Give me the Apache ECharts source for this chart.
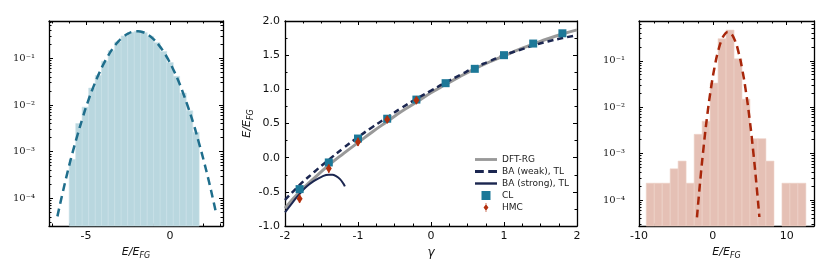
<!DOCTYPE html>
<html><head><meta charset="utf-8">
<script src="https://cdn.jsdelivr.net/npm/echarts@6/dist/echarts.min.js"></script>
<style>html,body{margin:0;padding:0;background:#fff}#c{width:830px;height:277px}</style>
</head><body><div id="c"></div>
<script>
// ---------- Left panel: histogram + fit ----------
const leftEdges = [-6.00,-5.61,-5.23,-4.84,-4.45,-4.07,-3.68,-3.29,-2.91,-2.52,-2.13,-1.75,-1.36,-0.97,-0.59,-0.20,0.19,0.57,0.96,1.35,1.73];
const leftHeights = [6.8e-4,4.0e-3,9.0e-3,0.023,0.043,0.086,0.147,0.224,0.302,0.36,0.38,0.355,0.295,0.216,0.14,0.081,0.041,0.018,7.5e-3,2.6e-3];
const leftCurveX = [-6.7,-6.4,-6.1,-5.8,-5.5,-5.2,-4.9,-4.6,-4.3,-4.0,-3.7,-3.4,-3.1,-2.8,-2.5,-2.2,-1.9,-1.6,-1.3,-1.0,-0.7,-0.4,-0.1,0.2,0.5,0.8,1.1,1.4,1.7,2.0,2.3,2.6,2.75];
const leftCurveY = [4.1e-5,1.26e-4,3.6e-4,9.5e-4,2.3e-3,5.3e-3,0.0114,0.0224,0.041,0.070,0.111,0.164,0.224,0.285,0.337,0.371,0.38,0.361,0.318,0.261,0.199,0.141,0.093,0.057,0.0325,0.0171,8.4e-3,3.9e-3,1.63e-3,6.5e-4,2.4e-4,8.1e-5,4.6e-5];
const leftXTicks = [-5, 0];
const leftXMinor = [-7,-6,-4,-3,-2,-1,1,2,3];

// ---------- Right panel: histogram + fit ----------
const rightEdges = [-9.02,-7.94,-6.86,-5.78,-4.70,-3.62,-2.53,-1.45,-0.37,0.71,1.79,2.87,3.95,5.03,6.11,7.19,8.28,9.36,10.44,11.52,12.60];
const rightHeights = [2.3e-4,2.3e-4,2.3e-4,4.7e-4,6.9e-4,2.3e-4,2.6e-3,5.0e-3,0.033,0.30,0.46,0.11,0.0149,2.1e-3,2.1e-3,6.9e-4,0,2.3e-4,2.3e-4,2.3e-4];
const rightCurveX = [-2.15,-1.75,-1.25,-0.75,-0.25,0.25,0.75,1.25,1.75,2.1,2.5,3.0,3.5,4.0,4.5,5.0,5.5,6.0,6.3];
const rightCurveY = [4.2e-5,2.2e-4,1.38e-3,6.8e-3,0.0256,0.075,0.169,0.295,0.397,0.42,0.383,0.272,0.148,0.063,0.0205,5.2e-3,1.0e-3,1.5e-4,4.3e-5];
const rightXTicks = [-10, 0, 10];
const rightXMinor = [-8,-6,-4,-2,2,4,6,8,12];

const logMajor = [1e-4, 1e-3, 1e-2, 1e-1];

// ---------- Middle panel ----------
const gammaGrid = [-2.0,-1.8,-1.6,-1.4,-1.2,-1.0,-0.8,-0.6,-0.4,-0.2,0.0,0.2,0.4,0.6,0.8,1.0,1.2,1.4,1.6,1.8,2.0];
const dftRG  = [-0.74,-0.50,-0.30,-0.11,0.06,0.22,0.38,0.53,0.68,0.81,0.95,1.07,1.19,1.30,1.40,1.49,1.58,1.66,1.74,1.81,1.87];
const baWeak = [-0.62,-0.40,-0.21,-0.03,0.14,0.30,0.45,0.59,0.73,0.86,0.98,1.10,1.21,1.32,1.41,1.50,1.57,1.64,1.70,1.75,1.79];
const baStrongX = [-2.0,-1.9,-1.8,-1.7,-1.6,-1.5,-1.4,-1.35,-1.3,-1.25,-1.2,-1.18];
const baStrongY = [-0.80,-0.66,-0.53,-0.42,-0.34,-0.28,-0.25,-0.25,-0.27,-0.31,-0.38,-0.42];
const clX = [-1.8,-1.4,-1.0,-0.6,-0.2,0.2,0.6,1.0,1.4,1.8];
const clY = [-0.46,-0.07,0.28,0.57,0.85,1.09,1.30,1.50,1.67,1.82];
const hmcX = [-1.8,-1.4,-1.0,-0.6,-0.2];
const hmcY = [-0.60,-0.16,0.23,0.56,0.84];
const hmcErr = [0.06,0.06,0.06,0.05,0.05];

const leftYMin = 2.55e-5, leftYMax = 0.63;
const rightYMin = 2.75e-5, rightYMax = 0.72;

function logMinor(min, max){
  const out = [];
  for (let e = Math.floor(Math.log10(min)); e <= Math.ceil(Math.log10(max)); e++)
    for (let k = 2; k <= 9; k++) { const v = k * Math.pow(10, e); if (v > min && v < max) out.push(v); }
  return out;
}

const supMap = {'-':'\u207B','0':'\u2070','1':'\u00B9','2':'\u00B2','3':'\u00B3','4':'\u2074','5':'\u2075','6':'\u2076','7':'\u2077','8':'\u2078','9':'\u2079'};
function logLabel(v){
  const e = Math.round(Math.log10(v));
  return '10' + String(e).split('').map(c => supMap[c]).join('');
}
const SANS = 'DejaVu Sans';
const nameE = '{a|E/E}{b|FG}';
const nameRich = {
  a: {fontFamily: SANS, fontStyle: 'italic', fontSize: 11, color: '#111', verticalAlign: 'top'},
  b: {fontFamily: SANS, fontStyle: 'italic', fontSize: 8, color: '#111', verticalAlign: 'top', padding: [5,0,0,0]}
};

function histRender(ymin, fill, stroke){
  return function(params, api){
    const x0 = api.value(0), x1 = api.value(1), h = api.value(2);
    if (!(h > 0)) return null;
    const p0 = api.coord([x0, h]);
    const p1 = api.coord([x1, ymin]);
    return {type: 'rect', shape: {x: p0[0], y: p0[1], width: p1[0]-p0[0], height: p1[1]-p0[1]},
            style: {fill: fill, stroke: stroke, lineWidth: 0.6}};
  };
}
function histData(edges, heights){
  return heights.map((h, i) => [edges[i], edges[i+1], h]);
}

const tickStyle = {color: '#000', width: 1};
const axLine = {show: true, onZero: false, lineStyle: {color: '#000', width: 1.3}};
const noLine = {show: false, onZero: false};

// Build the 4 x axes / 4 y axes of a histogram panel (main grid + overlay grid for minor ticks)
function histPanel(gMain, gOver, xmin, xmax, xMajor, xMinor, ymin, ymax){
  const xm = {type: 'value', min: xmin, max: xmax, splitLine: {show: false}};
  const ym = {type: 'log', logBase: 10, min: ymin, max: ymax, splitLine: {show: false}};
  const yMinor = logMinor(ymin, ymax);
  const xs = [
    Object.assign({}, xm, {gridIndex: gMain, position: 'bottom', axisLine: axLine,
      axisTick: {show: true, inside: true, length: 4, lineStyle: tickStyle, customValues: xMajor},
      axisLabel: {fontFamily: SANS, fontSize: 11, color: '#111', margin: 5, customValues: xMajor, formatter: v => String(v)},
      name: nameE, nameLocation: 'middle', nameGap: 20, nameTextStyle: {rich: nameRich}}),
    Object.assign({}, xm, {gridIndex: gMain, position: 'top', axisLine: axLine,
      axisTick: {show: true, inside: true, length: 4, lineStyle: tickStyle, customValues: xMajor}, axisLabel: {show: false}}),
    Object.assign({}, xm, {gridIndex: gOver, position: 'bottom', axisLine: noLine,
      axisTick: {show: true, inside: true, length: 2.5, lineStyle: tickStyle, customValues: xMinor}, axisLabel: {show: false}}),
    Object.assign({}, xm, {gridIndex: gOver, position: 'top', axisLine: noLine,
      axisTick: {show: true, inside: true, length: 2.5, lineStyle: tickStyle, customValues: xMinor}, axisLabel: {show: false}})
  ];
  const ys = [
    Object.assign({}, ym, {gridIndex: gMain, position: 'left', axisLine: axLine,
      axisTick: {show: true, inside: true, length: 4, lineStyle: tickStyle, customValues: logMajor},
      axisLabel: {fontFamily: 'DejaVu Serif', fontSize: 10, color: '#222', margin: 14, customValues: logMajor, formatter: logLabel}}),
    Object.assign({}, ym, {gridIndex: gMain, position: 'right', axisLine: axLine,
      axisTick: {show: true, inside: true, length: 4, lineStyle: tickStyle, customValues: logMajor}, axisLabel: {show: false}}),
    Object.assign({}, ym, {gridIndex: gOver, position: 'left', axisLine: noLine,
      axisTick: {show: true, inside: true, length: 2.5, lineStyle: tickStyle, customValues: yMinor}, axisLabel: {show: false}}),
    Object.assign({}, ym, {gridIndex: gOver, position: 'right', axisLine: noLine,
      axisTick: {show: true, inside: true, length: 2.5, lineStyle: tickStyle, customValues: yMinor}, axisLabel: {show: false}})
  ];
  return {xs, ys};
}

const L = histPanel(0, 3, -7.2, 3.15, leftXTicks, leftXMinor, leftYMin, leftYMax);
const R = histPanel(2, 4, -10, 13.7, rightXTicks, rightXMinor, rightYMin, rightYMax);

// middle panel axes
const midXBase = {type: 'value', gridIndex: 1, min: -2, max: 2, interval: 1, axisLine: axLine,
  axisTick: {show: true, inside: true, length: 4, lineStyle: tickStyle},
  minorTick: {show: true, splitNumber: 4, length: 2.5, lineStyle: tickStyle}, splitLine: {show: false}};
const midYBase = {type: 'value', gridIndex: 1, min: -1, max: 2, interval: 0.5, axisLine: axLine,
  axisTick: {show: true, inside: true, length: 4, lineStyle: tickStyle},
  minorTick: {show: true, splitNumber: 2, length: 2.5, lineStyle: tickStyle}, splitLine: {show: false}};
const midXs = [
  Object.assign({}, midXBase, {position: 'bottom', name: '{g|\u03B3}', nameLocation: 'middle', nameGap: 20,
    nameTextStyle: {rich: {g: {fontFamily: SANS, fontStyle: 'italic', fontSize: 12, color: '#111'}}},
    axisLabel: {fontFamily: SANS, fontSize: 11, color: '#111', margin: 5, formatter: v => String(v)}}),
  Object.assign({}, midXBase, {position: 'top', axisLabel: {show: false}})
];
const midYs = [
  Object.assign({}, midYBase, {position: 'left', name: nameE, nameLocation: 'middle', nameRotate: 90, nameGap: 30,
    nameTextStyle: {rich: nameRich},
    axisLabel: {fontFamily: SANS, fontSize: 11, color: '#111', margin: 5, formatter: v => v.toFixed(1)}}),
  Object.assign({}, midYBase, {position: 'right', axisLabel: {show: false}})
];

// index layout: 0,1 left main | 2,3 middle | 4,5 right main | 6,7 left overlay | 8,9 right overlay
const xAxes = [L.xs[0], L.xs[1], midXs[0], midXs[1], R.xs[0], R.xs[1], L.xs[2], L.xs[3], R.xs[2], R.xs[3]];
const yAxes = [L.ys[0], L.ys[1], midYs[0], midYs[1], R.ys[0], R.ys[1], L.ys[2], L.ys[3], R.ys[2], R.ys[3]];

const NAVY = '#1b2650', TEAL = '#1c7898', RED = '#b3300e', GRAY = '#999999';

const series = [
  {type: 'custom', xAxisIndex: 0, yAxisIndex: 0, renderItem: histRender(leftYMin, '#b9d7df', '#c9e1e8'),
   data: histData(leftEdges, leftHeights), encode: {x: [0,1], y: 2}, z: 1, silent: true},
  {type: 'line', name: 'leftfit', xAxisIndex: 0, yAxisIndex: 0, data: leftCurveX.map((x,i)=>[x, leftCurveY[i]]),
   symbol: 'none', smooth: true, lineStyle: {color: '#1f6e8c', width: 2.5, type: [8,5]}, z: 3},

  {type: 'custom', xAxisIndex: 4, yAxisIndex: 4, renderItem: histRender(rightYMin, '#e5c0b5', '#efd3ca'),
   data: histData(rightEdges, rightHeights), encode: {x: [0,1], y: 2}, z: 1, silent: true},
  {type: 'line', name: 'rightfit', xAxisIndex: 4, yAxisIndex: 4, data: rightCurveX.map((x,i)=>[x, rightCurveY[i]]),
   symbol: 'none', smooth: true, lineStyle: {color: '#a8260a', width: 2.5, type: [8,5]}, z: 3},

  {type: 'line', name: 'DFT-RG', xAxisIndex: 2, yAxisIndex: 2, data: gammaGrid.map((x,i)=>[x, dftRG[i]]),
   symbol: 'none', smooth: true, lineStyle: {color: GRAY, width: 3}, itemStyle: {color: GRAY}, z: 2},
  {type: 'line', name: 'BA (weak), TL', xAxisIndex: 2, yAxisIndex: 2, data: gammaGrid.map((x,i)=>[x, baWeak[i]]),
   symbol: 'none', smooth: true, lineStyle: {color: NAVY, width: 2.5, type: [6,4]}, itemStyle: {color: NAVY}, z: 3},
  {type: 'line', name: 'BA (strong), TL', xAxisIndex: 2, yAxisIndex: 2, data: baStrongX.map((x,i)=>[x, baStrongY[i]]),
   symbol: 'none', smooth: true, lineStyle: {color: NAVY, width: 2}, itemStyle: {color: NAVY}, z: 3},
  {type: 'scatter', name: 'CL', xAxisIndex: 2, yAxisIndex: 2, data: clX.map((x,i)=>[x, clY[i]]),
   symbol: 'rect', symbolSize: 8, itemStyle: {color: TEAL, opacity: 1}, z: 4},
  {type: 'custom', name: 'HMCerr', xAxisIndex: 2, yAxisIndex: 2,
   data: hmcX.map((x,i)=>[x, hmcY[i]-hmcErr[i], hmcY[i]+hmcErr[i]]), encode: {x: 0, y: [1,2]},
   renderItem: function(params, api){
     const a = api.coord([api.value(0), api.value(1)]);
     const b = api.coord([api.value(0), api.value(2)]);
     return {type: 'line', shape: {x1: a[0], y1: a[1], x2: b[0], y2: b[1]}, style: {stroke: RED, lineWidth: 1.5}};
   }, z: 5, silent: true},
  {type: 'scatter', name: 'HMC', xAxisIndex: 2, yAxisIndex: 2, data: hmcX.map((x,i)=>[x, hmcY[i]]),
   symbol: 'diamond', symbolSize: [6,9], itemStyle: {color: RED, opacity: 1}, z: 6}
];

const chart = echarts.init(document.getElementById('c'), null, {renderer: 'canvas'});
chart.setOption({
  animation: false,
  backgroundColor: '#fff',
  grid: [
    {left: 49, width: 174, top: 21, height: 205},
    {left: 285, width: 292, top: 21, height: 205},
    {left: 639, width: 175, top: 21, height: 205},
    {left: 49, width: 174, top: 21, height: 205},
    {left: 639, width: 175, top: 21, height: 205}
  ],
  xAxis: xAxes,
  yAxis: yAxes,
  legend: {
    data: [
      {name: 'DFT-RG', icon: 'path://M0,0h20v2.6h-20z'},
      {name: 'BA (weak), TL', icon: 'path://M0,0h8v2.6h-8zM12,0h8v2.6h-8z'},
      {name: 'BA (strong), TL', icon: 'path://M0,0h20v2.2h-20z'},
      {name: 'CL', icon: 'path://M0,1h8v8h-8z'},
      {name: 'HMC', icon: 'path://M3,1.5L6,5.5L3,9.5L0,5.5ZM2.6,0h0.8v11h-0.8z'}
    ],
    orient: 'vertical', left: 470, top: 150, itemGap: 3, itemWidth: 22, itemHeight: 9,
    symbolKeepAspect: true,
    itemStyle: {borderWidth: 0},
    textStyle: {fontFamily: SANS, fontSize: 9, color: '#222'}
  },
  series: series
});
</script>
</body></html>
